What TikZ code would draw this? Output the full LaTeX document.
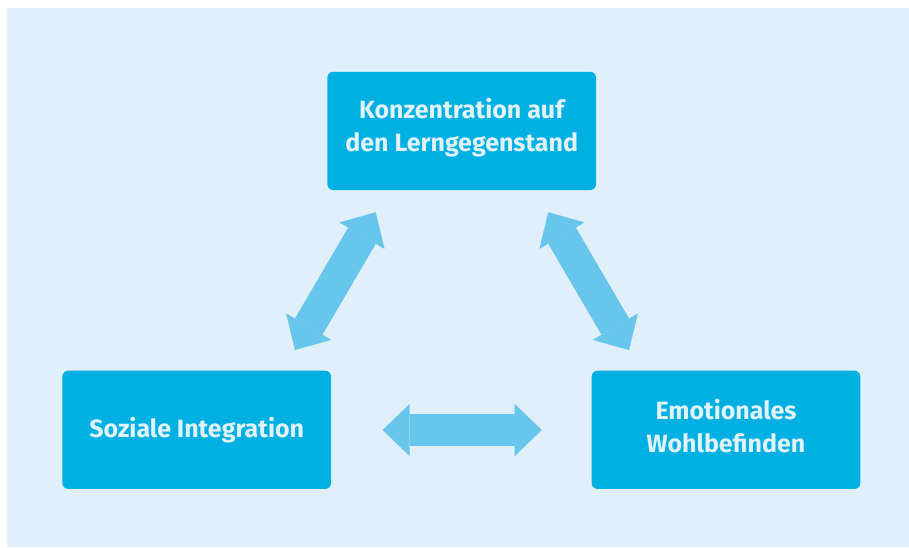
\documentclass[tikz,border=0pt]{standalone}
\usepackage{fontspec}
\setmainfont{Fira Sans}
\usetikzlibrary{arrows.meta}
\definecolor{bgblue}{RGB}{223,240,250}
\definecolor{boxblue}{RGB}{0,176,226}
\definecolor{arrowblue}{RGB}{104,198,236}
\definecolor{textblue}{RGB}{224,242,251}
\tikzset{
  topic/.style={fill=boxblue, rounded corners=6pt, minimum width=268.7pt,
    minimum height=118.3pt, inner sep=0pt},
  topictext/.style={inner sep=0pt, text=textblue, align=center,
    font=\fontsize{25}{32.5}\selectfont\bfseries},
  link/.style={draw=arrowblue, line width=32pt,
    {Triangle[width=52pt,length=27pt,line width=0.01pt]}-{Triangle[width=52pt,length=27pt,line width=0.01pt]}}
}
\begin{document}
\begin{tikzpicture}[x=1pt,y=-1pt]
  \useasboundingbox (0,0) rectangle (909,547);
  % backdrop
  \fill[bgblue] (7,8) rectangle (909,547);
  % the three topic boxes
  \node[topic] (focus) at (461.7,130.9) {};
  \node[topic] (social) at (196.7,429.8) {};
  \node[topic] (emotion) at (726,429.8) {};
  % their labels
  \node[topictext] (focustext) at ([yshift=3.5pt]focus.center) {Konzentration auf\\den Lerngegenstand};
  \node[topictext] (socialtext) at (social.center) {Soziale Integration};
  \node[topictext] (emotiontext) at ([yshift=3.5pt]emotion.center) {Emotionales\\Wohlbefinden};
  % arrow end points
  \coordinate (ls) at (295,350);
  \coordinate (le) at (375.7,212.3);
  \coordinate (rs) at (548.3,212.3);
  \coordinate (re) at (629,350);
  \coordinate (hs) at (382.7,430);
  \coordinate (he) at (541.7,430);
  % mutual influences
  \draw[link] (ls) -- (le);
  \draw[link] (rs) -- (re);
  \draw[link] (hs) -- (he);
\end{tikzpicture}
\end{document}
